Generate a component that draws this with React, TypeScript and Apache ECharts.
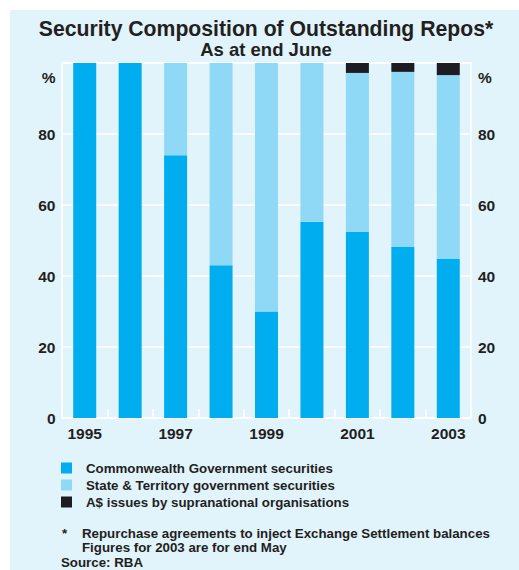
import React, { useEffect, useRef } from "react";
import * as echarts from "echarts";

const years = ["1995", "1996", "1997", "1998", "1999", "2000", "2001", "2002", "2003"];
const commonwealth = [100, 100, 74, 43, 30, 55.3, 52.4, 48.2, 44.8];
const stateTerritory = [0, 0, 26, 57, 70, 44.7, 44.8, 49.3, 51.8];
const supranational = [0, 0, 0, 0, 0, 0, 2.8, 2.5, 3.4];
const seriesNames = [
  "Commonwealth Government securities",
  "State & Territory government securities",
  "A$ issues by supranational organisations",
];
const titleText = "Security Composition of Outstanding Repos*";
const subtitleText = "As at end June";
const footnotes = [
  "Repurchase agreements to inject Exchange Settlement balances",
  "Figures for 2003 are for end May",
];
const sourceText = "Source: RBA";

const FONT = "'Liberation Sans', Arial, Helvetica, sans-serif";
const TXT = "#231f20";
const BG = "#e1f3fb";
const C1 = "#00aeef";
const C2 = "#8fd8f6";
const C3 = "#1c1c22";

export default function App() {
  const ref = useRef<HTMLDivElement>(null);
  useEffect(() => {
    document.body.style.margin = "0";
    const chart = echarts.init(ref.current!, undefined, { renderer: "svg" });
    const yLabel = {
      color: TXT,
      fontFamily: FONT,
      fontSize: 15.5,
      fontWeight: "bold" as const,
      formatter: (v: number) => (v === 100 ? "" : String(v)),
    };
    const yAxisBase = {
      type: "value" as const,
      min: 0,
      max: 100,
      interval: 20,
      axisLine: { show: false },
      axisTick: { show: false },
      splitLine: { show: true, lineStyle: { color: "#ffffff", width: 1.5 } },
    };
    chart.setOption({
      animation: false,
      backgroundColor: "#ffffff",
      textStyle: { fontFamily: FONT },
      grid: {
        left: 62,
        right: 48,
        top: 63,
        bottom: 152,
        show: true,
        backgroundColor: BG,
        borderColor: "#ffffff",
        borderWidth: 1.5,
      },
      xAxis: {
        type: "category",
        data: years,
        boundaryGap: true,
        axisLine: { show: false },
        axisTick: {
          show: true,
          inside: true,
          length: 9,
          interval: 0,
          lineStyle: { color: "#ffffff", width: 1.5 },
        },
        axisLabel: {
          interval: 1,
          color: TXT,
          fontFamily: FONT,
          fontSize: 15.5,
          fontWeight: "bold",
          margin: 7,
        },
      },
      yAxis: [
        { ...yAxisBase, position: "left", axisLabel: { ...yLabel, margin: 6.5 } },
        { ...yAxisBase, position: "right", splitLine: { show: false }, axisLabel: { ...yLabel, margin: 7 } },
      ],
      legend: {
        orient: "vertical",
        left: 61,
        top: 461.5,
        padding: 0,
        itemWidth: 11,
        itemHeight: 11,
        itemGap: 4,
        icon: "rect",
        selectedMode: false,
        data: seriesNames,
        textStyle: {
          color: TXT,
          fontFamily: FONT,
          fontSize: 13.3,
          fontWeight: "bold",
          lineHeight: 11,
          height: 11,
          padding: [0, 0, 0, 9],
        },
      },
      graphic: [
        {
          type: "rect",
          z: -10,
          silent: true,
          shape: { x: 10, y: 10, width: 509, height: 560 },
          style: { fill: BG },
        },
        {
          type: "text",
          x: 266,
          y: 28,
          style: {
            text: titleText,
            fill: TXT,
            font: `bold 21.2px ${FONT}`,
            textAlign: "center",
            textVerticalAlign: "middle",
          },
        },
        {
          type: "text",
          x: 266,
          y: 49,
          style: {
            text: subtitleText,
            fill: TXT,
            font: `bold 18.5px ${FONT}`,
            textAlign: "center",
            textVerticalAlign: "middle",
          },
        },
        {
          type: "text",
          x: 55.5,
          y: 77,
          style: { text: "%", fill: TXT, font: `bold 15.5px ${FONT}`, textAlign: "right", textVerticalAlign: "middle" },
        },
        {
          type: "text",
          x: 478,
          y: 77,
          style: { text: "%", fill: TXT, font: `bold 15.5px ${FONT}`, textAlign: "left", textVerticalAlign: "middle" },
        },
        {
          type: "text",
          x: 62,
          y: 533,
          style: { text: "*", fill: TXT, font: `bold 13.3px ${FONT}`, textAlign: "left", textVerticalAlign: "middle" },
        },
        {
          type: "text",
          x: 82,
          y: 533,
          style: { text: footnotes[0], fill: TXT, font: `bold 13.3px ${FONT}`, textAlign: "left", textVerticalAlign: "middle" },
        },
        {
          type: "text",
          x: 82,
          y: 547,
          style: { text: footnotes[1], fill: TXT, font: `bold 13.3px ${FONT}`, textAlign: "left", textVerticalAlign: "middle" },
        },
        {
          type: "text",
          x: 61,
          y: 562,
          style: { text: sourceText, fill: TXT, font: `bold 13.3px ${FONT}`, textAlign: "left", textVerticalAlign: "middle" },
        },
      ],
      series: [
        { name: seriesNames[0], type: "bar", stack: "total", data: commonwealth, barWidth: 23, itemStyle: { color: C1 } },
        { name: seriesNames[1], type: "bar", stack: "total", data: stateTerritory, barWidth: 23, itemStyle: { color: C2 } },
        { name: seriesNames[2], type: "bar", stack: "total", data: supranational, barWidth: 23, itemStyle: { color: C3 } },
      ],
    });
    return () => chart.dispose();
  }, []);
  return <div ref={ref} style={{ width: 519, height: 570 }} />;
}
